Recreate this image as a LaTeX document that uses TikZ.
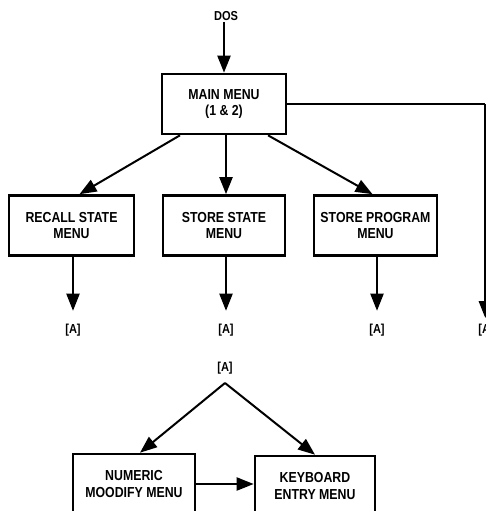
\documentclass[tikz,border=0pt]{standalone}
\usepackage{fontspec}
\setmainfont{Liberation Sans}[FakeStretch=0.85]
\usetikzlibrary{arrows.meta}
\tikzset{
  menu/.style={draw,line width=2.6pt,minimum width=#1,minimum height=60pt,align=center,inner sep=2pt,font=\fontsize{14.5}{16.5}\selectfont\bfseries},
  menu/.default=124pt,
  lbl/.style={font=\fontsize{13}{15}\selectfont\bfseries,inner sep=1pt},
  flow/.style={line width=2pt,-{Triangle[length=17pt,width=13pt]}}
}
\begin{document}
\begin{tikzpicture}[x=1pt,y=-1pt]
			\useasboundingbox (0,0) rectangle (486,511);
			\clip (0,0) rectangle (486,511);
			% 上段
			\node[lbl] (dos) at (226,16) {DOS};
			\node[menu] (main) at (224,104) {MAIN MENU\\(1 \& 2)};
			\node[menu=125pt] (recall) at (71.5,225.5) {RECALL STATE\\MENU};
			\node[menu=122pt] (sstate) at (224,225.5) {STORE STATE\\MENU};
			\node[menu=123pt] (sprog) at (375.5,225.5) {STORE PROGRAM\\MENU};
			\node[lbl] (A1) at (73,330) {[A]};
			\node[lbl] (A2) at (226,330) {[A]};
			\node[lbl] (A3) at (377,330) {[A]};
			\node[lbl] (A4) at (486,330) {[A]};
			\draw[flow] (dos.south -| main) -- (main);
			\draw[flow] ([xshift=-44pt]main.south) -- ([xshift=8pt]recall.north);
			\draw[flow] (main.south -| A2) -- (sstate.north -| A2);
			\draw[flow] ([xshift=44pt]main.south) -- ([xshift=-3pt]sprog.north);
			\draw[line width=2pt] (main.east) -- ++(198,0) coordinate (turn);
			\draw[flow,shorten >=12pt] (turn) -- (turn |- A4);
			\draw[flow,shorten >=12pt] (recall.south -| A1) -- (A1);
			\draw[flow,shorten >=12pt] (sstate.south -| A2) -- (A2);
			\draw[flow,shorten >=12pt] (sprog.south -| A3) -- (A3);
			% 下段
			\node[lbl] (A5) at (225,368) {[A]};
			\coordinate (fork) at (225,383);
			\node[menu=122pt] (numeric) at (134,484) {NUMERIC\\MOODIFY MENU};
			\node[menu=120pt] (keyboard) at (315,486) {KEYBOARD\\ENTRY MENU};
			\draw[flow] (fork) -- ([xshift=6pt]numeric.north);
			\draw[flow] (fork) -- (keyboard.north);
			\draw[flow] (numeric.east) -- (numeric.east -| keyboard.west);
		\end{tikzpicture}
\end{document}
